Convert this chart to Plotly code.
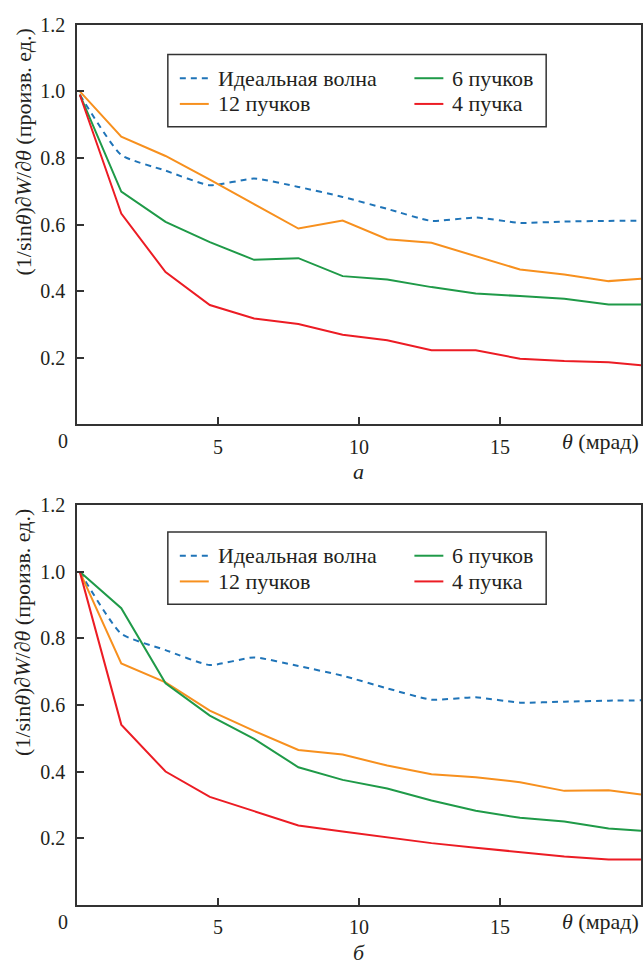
import plotly.graph_objects as go

# angle grid, mrad
theta = [0.1, 1.57, 3.14, 4.71, 6.28, 7.85, 9.42, 11.0, 12.57, 14.14, 15.71, 17.28, 18.85, 20.0]

# panel a
a_ideal = [0.99, 0.809, 0.762, 0.718, 0.738, 0.713, 0.683, 0.647, 0.611, 0.621, 0.605, 0.609, 0.611, 0.611]
a_12 = [1.0, 0.864, 0.806, 0.735, 0.661, 0.588, 0.612, 0.556, 0.545, 0.504, 0.465, 0.450, 0.430, 0.437]
a_6 = [0.99, 0.699, 0.608, 0.547, 0.494, 0.499, 0.445, 0.435, 0.412, 0.393, 0.385, 0.377, 0.360, 0.360]
a_4 = [0.99, 0.633, 0.457, 0.358, 0.318, 0.301, 0.269, 0.252, 0.222, 0.222, 0.197, 0.190, 0.186, 0.177]

# panel b
b_ideal = [1.0, 0.814, 0.765, 0.720, 0.743, 0.717, 0.688, 0.650, 0.616, 0.623, 0.607, 0.610, 0.613, 0.614]
b_12 = [1.0, 0.725, 0.668, 0.583, 0.522, 0.465, 0.451, 0.418, 0.392, 0.383, 0.368, 0.342, 0.344, 0.331]
b_6 = [1.0, 0.891, 0.665, 0.568, 0.498, 0.413, 0.375, 0.349, 0.313, 0.282, 0.261, 0.250, 0.229, 0.222]
b_4 = [1.0, 0.541, 0.400, 0.324, 0.281, 0.238, 0.220, 0.203, 0.185, 0.171, 0.157, 0.145, 0.136, 0.136]

names = ["Идеальная волна", "12 пучков", "6 пучков", "4 пучка"]
colors = ["#1f74b8", "#f7901e", "#1f9a48", "#ec1c24"]
dashes = ["6px,5px", "solid", "solid", "solid"]
shapes_kind = ["spline", "linear", "linear", "linear"]

x_ticks = [5, 10, 15]
y_ticks = [0.2, 0.4, 0.6, 0.8, 1.0, 1.2]
captions = ["а", "б"]

W, H = 643, 965
ML, MR = 77, 1
FONT = "Liberation Serif"
INK = "#231f20"
AX = "#333333"
NUM_SIZE = 20
TXT_SIZE = 22

# pixel layout of the two panels (top edge, bottom edge)
panels = [(14, 418), (500, 904)]


def px_x(px):
    return (px - ML) / (W - ML - MR)


def px_y(py):
    return (H - py) / H


fig = go.Figure()

series = [(a_ideal, a_12, a_6, a_4), (b_ideal, b_12, b_6, b_4)]
for p, data in enumerate(series):
    xa = "x" if p == 0 else "x2"
    ya = "y" if p == 0 else "y2"
    for name, ys, c, d, k in zip(names, data, colors, dashes, shapes_kind):
        line = dict(color=c, width=2, dash=d, shape=k)
        if k == "spline":
            line["smoothing"] = 0.5
        fig.add_trace(go.Scatter(
            x=theta, y=ys, mode="lines", name=name, showlegend=False,
            line=line, xaxis=xa, yaxis=ya, cliponaxis=True,
        ))

axis_common = dict(
    showline=True, linecolor=AX, linewidth=1.5, mirror=True,
    ticks="inside", ticklen=7, tickwidth=1.5, tickcolor=AX,
    showgrid=False, zeroline=False,
    tickfont=dict(family=FONT, size=NUM_SIZE, color=INK),
)

layout = dict(
    width=W, height=H,
    margin=dict(l=ML, r=MR, t=0, b=0),
    paper_bgcolor="white", plot_bgcolor="white",
    showlegend=False,
    font=dict(family=FONT, size=NUM_SIZE, color=INK),
)
for p, (top, bot) in enumerate(panels):
    sx = "" if p == 0 else "2"
    layout["xaxis" + sx] = dict(
        axis_common, range=[0, 20], tickvals=x_ticks, domain=[0, 1],
        anchor="y" + sx, ticklabelstandoff=4,
    )
    layout["yaxis" + sx] = dict(
        axis_common, range=[0, 1.2], tickvals=y_ticks, tickformat=".1f",
        domain=[px_y(bot), px_y(top)], anchor="x" + sx, ticklabelstandoff=6,
    )
fig.update_layout(**layout)

ann = []
shapes = []
legend_rows = [(44, 117), (527, 600)]
for p, (top, bot) in enumerate(panels):
    # corner zero, axis name and panel caption
    lab_y = bot + 17
    ann.append(dict(text="0", x=px_x(63), y=px_y(lab_y), xref="paper", yref="paper",
                    showarrow=False, xanchor="center", yanchor="middle",
                    font=dict(family=FONT, size=NUM_SIZE, color=INK)))
    ann.append(dict(text="<i>θ</i> (мрад)", x=px_x(642), y=px_y(lab_y), xref="paper", yref="paper",
                    showarrow=False, xanchor="right", yanchor="middle",
                    font=dict(family=FONT, size=TXT_SIZE, color=INK)))
    ann.append(dict(text="<i>" + captions[p] + "</i>", x=px_x(359), y=px_y(bot + 48),
                    xref="paper", yref="paper", showarrow=False,
                    xanchor="center", yanchor="middle",
                    font=dict(family=FONT, size=TXT_SIZE, color=INK)))
    ann.append(dict(text="(1/sin<i>θ</i>)<i>∂W</i>/<i>∂θ</i> (произв. ед.)",
                    x=px_x(23), y=px_y(top + 129), xref="paper", yref="paper",
                    showarrow=False, textangle=-90, xanchor="center", yanchor="middle",
                    font=dict(family=FONT, size=TXT_SIZE, color=INK)))

    # legend box with two columns
    lt, lb = legend_rows[p]
    shapes.append(dict(type="rect", xref="paper", yref="paper",
                       x0=px_x(168), x1=px_x(547), y0=px_y(lb), y1=px_y(lt),
                       line=dict(color=AX, width=1.5), fillcolor="white", layer="above"))
    rows = [lt + 24, lt + 50]
    slots = [(180, rows[0]), (180, rows[1]), (415, rows[0]), (415, rows[1])]
    for (sx0, sy), name, c, d in zip(slots, names, colors, dashes):
        shapes.append(dict(type="line", xref="paper", yref="paper",
                           x0=px_x(sx0), x1=px_x(sx0 + 29), y0=px_y(sy), y1=px_y(sy),
                           line=dict(color=c, width=2, dash=d), layer="above"))
        ann.append(dict(text=name, x=px_x(sx0 + 36), y=px_y(sy), xref="paper", yref="paper",
                        showarrow=False, xanchor="left", yanchor="middle",
                        font=dict(family=FONT, size=TXT_SIZE, color=INK)))

fig.update_layout(annotations=ann, shapes=shapes)
fig.write_html("out.html")
